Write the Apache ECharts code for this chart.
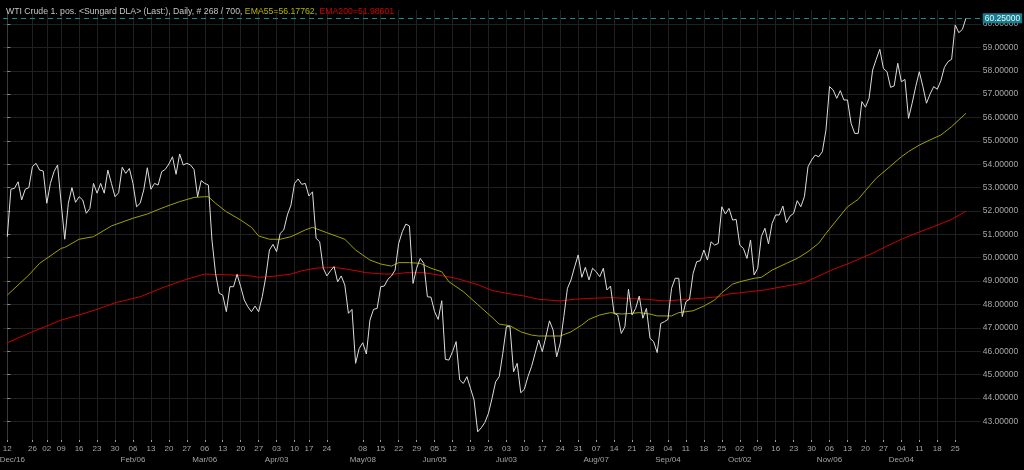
<!DOCTYPE html>
<html><head><meta charset="utf-8">
<script src="https://cdn.jsdelivr.net/npm/echarts@6/dist/echarts.min.js"></script>
<style>html,body{margin:0;padding:0;background:#000;}#c{width:1024px;height:470px;}</style>
</head><body><div id="c"></div>
<script>
// Daily closes, one per trading day (index 0 = first bar)
const price = [
50.90,52.93,52.97,53.25,52.47,52.93,53.00,53.90,54.04,53.75,
53.71,52.33,53.18,53.68,53.97,52.33,50.79,52.33,53.00,52.37,
52.61,52.47,51.90,52.11,53.18,52.76,53.18,52.76,53.75,53.18,
52.61,52.78,53.87,53.61,53.82,53.18,52.18,52.33,52.90,53.85,
52.93,53.18,53.11,53.68,53.78,54.01,54.32,53.57,54.44,53.97,
54.04,53.97,53.78,52.61,53.30,53.18,53.11,50.76,49.33,48.48,
48.40,47.69,48.76,48.76,49.29,48.76,48.19,47.90,47.69,47.93,
47.69,48.33,49.19,50.33,50.57,50.26,51.04,51.19,51.83,52.25,
53.18,53.37,53.14,53.18,52.64,52.82,50.83,50.68,49.55,49.22,
49.44,49.62,48.97,49.22,48.83,47.62,47.79,45.48,46.12,46.36,
45.88,47.33,47.79,47.83,48.76,48.79,49.08,49.22,49.47,50.61,
51.11,51.44,51.36,48.90,49.55,49.97,49.76,48.33,48.31,47.69,
47.36,48.16,45.65,45.62,45.98,46.41,44.77,44.62,44.91,44.41,
43.91,42.55,42.72,42.95,43.34,43.98,44.69,44.91,45.91,47.05,
47.05,45.12,45.48,44.22,44.37,44.91,45.34,45.91,46.48,45.98,
46.62,47.30,46.91,45.76,46.34,47.48,48.69,49.05,49.61,50.12,
49.16,49.59,49.05,49.55,49.40,49.19,49.55,48.62,48.79,47.62,
47.55,46.76,47.05,48.65,47.55,47.83,48.36,47.41,47.83,46.55,
46.41,45.94,47.19,47.26,47.36,48.69,49.12,49.12,47.48,48.12,
48.22,49.33,49.83,49.87,50.33,49.90,50.68,50.54,50.61,52.18,
51.87,52.11,51.61,51.64,50.54,50.40,49.97,50.76,49.26,49.55,
50.90,51.26,50.59,51.47,51.83,51.83,52.21,51.50,51.78,51.90,
52.44,52.18,52.61,53.89,54.18,54.39,54.32,54.54,55.46,57.32,
57.18,56.82,57.15,56.75,56.75,55.75,55.32,55.32,56.68,56.44,
56.82,58.03,58.49,58.92,58.10,57.96,57.29,57.35,58.32,57.53,
57.63,55.96,56.61,57.32,57.96,57.32,56.61,57.00,57.32,57.21,
57.57,58.15,58.39,58.49,59.96,59.63,59.77,60.25
];
// EMA55 read at [bar index, value]
const ema55 = [
[0,48.40],[6,49.26],[9,49.76],[15,50.40],[16,50.44],[20,50.79],[24,50.90],[29,51.36],[35,51.69],[39,51.87],
[44,52.18],[48,52.40],[52,52.58],[55,52.61],[56,52.61],[58,52.33],[61,51.97],[65,51.61],[68,51.30],[70,50.93],
[73,50.79],[76,50.79],[79,50.90],[83,51.19],[85,51.30],[89,51.07],[94,50.79],[97,50.33],[101,49.90],[104,49.73],
[107,49.64],[109,49.79],[112,49.79],[115,49.76],[118,49.55],[121,49.40],[123,48.97],[127,48.55],[131,48.00],[135,47.45],
[137,47.16],[140,47.09],[143,46.83],[146,46.69],[148,46.65],[151,46.65],[154,46.65],[157,46.83],[160,47.12],[162,47.36],
[165,47.55],[168,47.65],[171,47.59],[174,47.62],[176,47.65],[179,47.59],[181,47.51],[185,47.51],[187,47.65],[191,47.73],
[194,47.93],[197,48.19],[199,48.50],[202,48.87],[204,48.97],[208,49.12],[210,49.16],[213,49.47],[217,49.76],[220,49.97],
[223,50.26],[226,50.62],[228,51.04],[231,51.61],[234,52.18],[237,52.50],[239,52.87],[242,53.40],[246,53.92],[249,54.32],
[251,54.54],[254,54.82],[257,55.04],[260,55.25],[263,55.61],[267,56.18]
];
// EMA200 read at [bar index, value]
const ema200 = [
[0,46.36],[7,46.83],[15,47.33],[20,47.55],[25,47.79],[30,48.07],[37,48.33],[44,48.76],[50,49.08],[55,49.30],
[61,49.27],[68,49.22],[70,49.16],[75,49.22],[79,49.30],[82,49.44],[86,49.55],[91,49.59],[95,49.50],[100,49.36],
[105,49.30],[108,49.30],[111,49.36],[116,49.36],[120,49.26],[125,49.12],[131,48.85],[135,48.60],[139,48.48],[144,48.36],
[148,48.22],[154,48.15],[158,48.22],[162,48.26],[168,48.29],[173,48.26],[178,48.22],[183,48.15],[187,48.19],[193,48.26],
[198,48.33],[201,48.45],[204,48.50],[207,48.55],[211,48.62],[217,48.79],[222,48.93],[226,49.22],[230,49.50],[234,49.73],
[237,49.93],[241,50.19],[245,50.50],[249,50.79],[253,51.04],[258,51.33],[263,51.64],[267,51.99]
];
const lastPrice = 60.25;
const ema55Text = 'EMA55=56.17762';
const ema200Text = 'EMA200=51.98601';
const titleText = 'WTI Crude 1. pos. <Sungard DLA> (Last:), Daily, # 268 / 700, ';
const yTicks = [43,44,45,46,47,48,49,50,51,52,53,54,55,56,57,58,59,60];
const tickDays = [0,7,11,15,20,25,30,35,40,45,50,55,60,65,70,75,80,84,89,
  99,104,109,114,119,124,129,134,139,144,149,154,159,164,169,174,179,184,189,194,199,
  204,209,214,219,224,229,234,239,244,249,254,259,264];
const tickDayLabels = ['12','26','02','09','16','23','30','06','13','20','27','06','13','20','27','03','10','17','24',
  '08','15','22','29','05','12','19','26','03','10','17','24','31','07','14','21','28','04','11','18','25',
  '02','09','16','23','30','06','13','20','27','04','11','18','25'];
const monthTickDays = [0,35,55,75,99,119,139,164,184,204,229,249];
const monthTickLabels = ['Dec/16','Feb/06','Mar/06','Apr/03','May/08','Jun/05','Jul/03','Aug/07','Sep/04','Oct/02','Nov/06','Dec/04'];

const FONT = "'Liberation Sans', Arial, sans-serif";
const chart = echarts.init(document.getElementById('c'), null, {renderer: 'canvas'});
chart.setOption({
  backgroundColor: '#000000',
  animation: false,
  textStyle: {fontFamily: FONT},
  title: {
    left: 1, top: 2,
    text: '{a|' + titleText + '}{b|' + ema55Text + ', }{c|' + ema200Text + '}',
    textStyle: {
      fontFamily: FONT, fontSize: 8.7, fontWeight: 'normal',
      rich: {
        a: {color: '#c4c4c4', fontSize: 8.7, fontFamily: FONT},
        b: {color: '#b4b400', fontSize: 8.7, fontFamily: FONT},
        c: {color: '#d40000', fontSize: 8.7, fontFamily: FONT}
      }
    }
  },
  grid: {left: 3, right: 43.3, top: 10, bottom: 30, containLabel: false, outerBoundsMode: 'none'},
  xAxis: {
    type: 'value', min: -1.2, max: 271.1,
    axisLine: {show: false},
    axisTick: {show: true, customValues: tickDays, length: 2, lineStyle: {color: '#9a9a9a'}},
    axisLabel: {
      customValues: tickDays, fontSize: 8, color: '#a4a4a4', margin: 3, lineHeight: 11, fontFamily: FONT,
      formatter: function (v) {
        const d = Math.round(v);
        const k = tickDays.indexOf(d);
        if (k < 0) return '';
        const m = monthTickDays.indexOf(d);
        if (m === 0) return '{d|' + tickDayLabels[k] + '}\n{m0|' + monthTickLabels[m] + '}';
        if (m > 0) return tickDayLabels[k] + '\n' + monthTickLabels[m];
        return tickDayLabels[k];
      },
      rich: {
        d: {fontSize: 8, color: '#a4a4a4', lineHeight: 11, fontFamily: FONT},
        m0: {fontSize: 8, color: '#a4a4a4', lineHeight: 11, fontFamily: FONT, padding: [0, 0, 0, 10]}
      }
    },
    splitLine: {show: true, lineStyle: {color: '#202020', width: 1}}
  },
  yAxis: {
    type: 'value', position: 'right', min: 42.2, max: 60.6,
    axisLine: {show: true, lineStyle: {color: '#3a3a3a'}},
    axisTick: {show: true, customValues: yTicks, length: 3, lineStyle: {color: '#8a8a8a'}},
    axisLabel: {customValues: yTicks, fontSize: 8.5, color: '#a8a8a8', margin: 2, fontFamily: FONT,
      formatter: function (v) { return Number(v).toFixed(5); }},
    splitLine: {show: true, lineStyle: {color: '#202020', width: 1}}
  },
  series: [
    {type: 'line', data: ema200, showSymbol: false, symbol: 'none', lineStyle: {color: '#cc0000', width: 1}, z: 2},
    {type: 'line', data: ema55, showSymbol: false, symbol: 'none', lineStyle: {color: '#a0a000', width: 1}, z: 3},
    {type: 'line', data: price.map(function (v, i) { return [i, v]; }), showSymbol: false, symbol: 'none',
      lineStyle: {color: '#dcdcdc', width: 1}, z: 4,
      markLine: {
        silent: true, symbol: ['none', 'none'],
        lineStyle: {color: '#1a8696', width: 1, type: [5, 4]},
        label: {position: 'end', distance: 2, formatter: lastPrice.toFixed(5), backgroundColor: '#177d90',
          color: '#e6f6fa', fontSize: 8.5, padding: [1, 2, 0, 2], fontFamily: FONT},
        data: [{yAxis: lastPrice}]
      }
    }
  ]
});
</script>
</body></html>
